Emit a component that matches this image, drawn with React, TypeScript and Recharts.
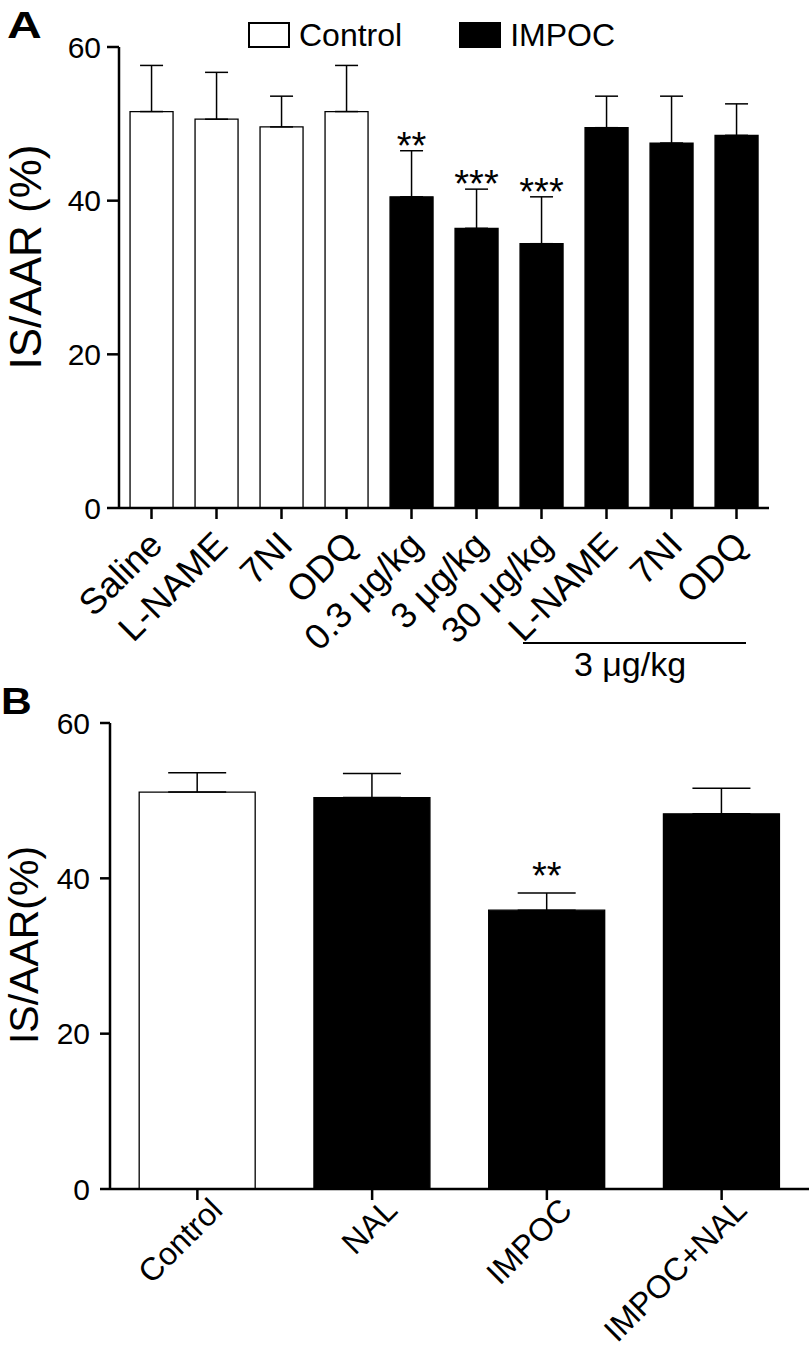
import React from "react";
import {
  ComposedChart,
  Bar,
  Cell,
  ErrorBar,
  XAxis,
  YAxis,
  Scatter,
  Legend,
} from "recharts";

// ---------- Panel A data ----------
const categoriesA = ["Saline", "L-NAME", "7NI", "ODQ", "0.3 μg/kg", "3 μg/kg", "30 μg/kg", "L-NAME", "7NI", "ODQ"];
const groupA = ["Control", "Control", "Control", "Control", "IMPOC", "IMPOC", "IMPOC", "IMPOC", "IMPOC", "IMPOC"];
const meanA = [51.6, 50.6, 49.6, 51.6, 40.5, 36.4, 34.4, 49.5, 47.5, 48.5];
const semA = [6.0, 6.1, 4.0, 6.0, 6.0, 5.1, 6.1, 4.1, 6.1, 4.1];
const sigA = ["", "", "", "", "**", "***", "***", "", "", ""];

// ---------- Panel B data ----------
const categoriesB = ["Control", "NAL", "IMPOC", "IMPOC+NAL"];
const groupB = ["Control", "IMPOC", "IMPOC", "IMPOC"];
const meanB = [51.1, 50.4, 35.9, 48.3];
const semB = [2.5, 3.1, 2.2, 3.3];
const sigB = ["", "", "**", ""];

const yTicks = [0, 20, 40, 60];
const legendItems = ["Control", "IMPOC"];
const doseBracketLabel = "3 μg/kg";

const FONT = "'Liberation Sans', Arial, Helvetica, sans-serif";
const fillOf = (g: string) => (g === "Control" ? "#ffffff" : "#000000");

const build = (cats: string[], groups: string[], means: number[], sems: number[], sigs: string[]) =>
  cats.map((c, i) => ({
    id: String(i),
    label: c,
    group: groups[i],
    mean: means[i],
    err: [0, sems[i]],
    top: means[i] + sems[i],
    sig: sigs[i],
  }));

const dataA = build(categoriesA, groupA, meanA, semA, sigA);
const dataB = build(categoriesB, groupB, meanB, semB, sigB);

const makeTick = (labels: string[], dx: number, dy: number, fs: number) => (props: any) => {
  const { x, y, payload } = props;
  const tx = x + dx;
  const ty = y + dy;
  return (
    <text
      x={tx}
      y={ty}
      transform={`rotate(-45, ${tx}, ${ty})`}
      textAnchor="end"
      fontSize={fs}
      fontFamily={FONT}
      fill="#000"
    >
      {labels[Number(payload.value)]}
    </text>
  );
};

const YTick = (props: any) => {
  const { x, y, payload } = props;
  return (
    <text x={x} y={y} dy="0.36em" textAnchor="end" fontSize={30} fontFamily={FONT} fill="#000">
      {payload.value}
    </text>
  );
};

const makeStar = (dy: number) => (props: any) => {
  const { cx, cy, payload } = props;
  if (!payload || !payload.sig) return <g />;
  return (
    <text x={cx} y={cy + dy} textAnchor="middle" fontSize={38} fontFamily={FONT} fill="#000">
      {payload.sig}
    </text>
  );
};

const LegendContent = () => (
  <div style={{ display: "flex", alignItems: "center", fontFamily: FONT, fontSize: 32, color: "#000" }}>
    {legendItems.map((name, i) => (
      <div key={name} style={{ display: "flex", alignItems: "center", marginRight: i === 0 ? 57 : 0 }}>
        <div
          style={{
            width: 38,
            height: 22,
            background: fillOf(name),
            border: "2px solid #000",
            marginRight: 9,
          }}
        />
        <span style={{ lineHeight: "32px" }}>{name}</span>
      </div>
    ))}
  </div>
);

const yLabel = (text: string, x: number, y: number, fs: number) => () =>
  (
    <text
      x={x}
      y={y}
      transform={`rotate(-90, ${x}, ${y})`}
      textAnchor="middle"
      fontSize={fs}
      fontFamily={FONT}
      fill="#000"
    >
      {text}
    </text>
  );

const axisProps = { stroke: "#000", strokeWidth: 2.5 };

export default function App() {
  return (
    <div style={{ position: "absolute", left: 0, top: 0, width: 812, height: 1356, background: "#fff", fontFamily: FONT }}>
      {/* Panel A */}
      <div style={{ position: "absolute", left: 0, top: 0 }}>
        <ComposedChart width={812} height={680} data={dataA} margin={{ top: 47, right: 43, bottom: 0, left: 0 }} barCategoryGap="17%">
          <XAxis
            dataKey="id"
            type="category"
            height={172}
            axisLine={axisProps}
            tickLine={axisProps}
            tickSize={11}
            tickMargin={2}
            interval={0}
            tick={makeTick(categoriesA, 13, 26, 36)}
          />
          <YAxis
            domain={[0, 60]}
            ticks={yTicks}
            width={119}
            axisLine={axisProps}
            tickLine={axisProps}
            tickSize={12}
            tickMargin={6}
            tick={<YTick />}
            label={{ content: yLabel("IS/AAR (%)", 41, 257, 44) }}
          />
          <Legend
            layout="horizontal"
            verticalAlign="middle"
            align="center"
            content={<LegendContent />}
            wrapperStyle={{ top: 19, left: 248, width: "auto", height: "auto" }}
          />
          <Bar dataKey="mean" isAnimationActive={false} stroke="#000" strokeWidth={1.3}>
            {dataA.map((d, i) => (
              <Cell key={i} fill={fillOf(d.group)} />
            ))}
            <ErrorBar dataKey="err" width={11.5} stroke="#000" strokeWidth={1.5} direction="y" />
          </Bar>
          <Scatter dataKey="top" isAnimationActive={false} shape={makeStar(8)} />
        </ComposedChart>
      </div>
      {/* dose bracket */}
      <svg style={{ position: "absolute", left: 0, top: 0 }} width={812} height={690}>
        <line x1={523} x2={746} y1={643} y2={643} stroke="#000" strokeWidth={2} />
        <text x={630} y={676} textAnchor="middle" fontSize={34} fontFamily={FONT} fill="#000">
          {doseBracketLabel}
        </text>
      </svg>
      <div style={{ position: "absolute", left: 7, top: 7, fontSize: 37, lineHeight: 1, fontWeight: 700, fontFamily: FONT, transform: "scaleX(1.3)", transformOrigin: "left" }}>A</div>

      {/* Panel B */}
      <div style={{ position: "absolute", left: 0, top: 680 }}>
        <ComposedChart width={812} height={676} data={dataB} margin={{ top: 43, right: 3, bottom: 0, left: 0 }} barCategoryGap="16.7%">
          <XAxis
            dataKey="id"
            type="category"
            height={167}
            axisLine={axisProps}
            tickLine={axisProps}
            tickSize={11}
            tickMargin={2}
            interval={0}
            tick={makeTick(categoriesB, 27, 10, 32)}
          />
          <YAxis
            domain={[0, 60]}
            ticks={yTicks}
            width={110}
            axisLine={axisProps}
            tickLine={axisProps}
            tickSize={10}
            tickMargin={10}
            tick={<YTick />}
            label={{ content: yLabel("IS/AAR(%)", 38, 265, 41) }}
          />
          <Bar dataKey="mean" isAnimationActive={false} stroke="#000" strokeWidth={1.3}>
            {dataB.map((d, i) => (
              <Cell key={i} fill={fillOf(d.group)} />
            ))}
            <ErrorBar dataKey="err" width={29} stroke="#000" strokeWidth={1.5} direction="y" />
          </Bar>
          <Scatter dataKey="top" isAnimationActive={false} shape={makeStar(-4)} />
        </ComposedChart>
      </div>
      <div style={{ position: "absolute", left: 1, top: 683, fontSize: 37, lineHeight: 1, fontWeight: 700, fontFamily: FONT, transform: "scaleX(1.15)", transformOrigin: "left" }}>B</div>
    </div>
  );
}
